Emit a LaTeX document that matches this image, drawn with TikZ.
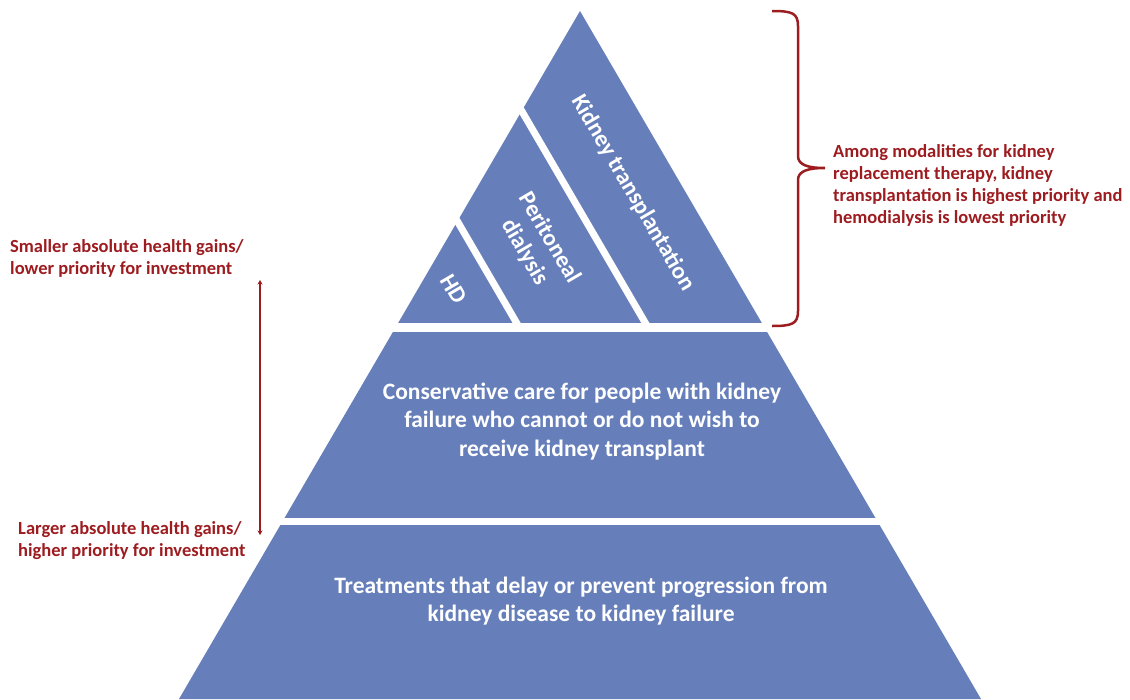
\documentclass[tikz,border=0pt]{standalone}
\usepackage{fontspec}
\setmainfont{Carlito}
\usetikzlibrary{arrows.meta}
\definecolor{pyrblue}{RGB}{102,127,187}
\definecolor{notered}{RGB}{156,28,32}

\begin{document}
\begin{tikzpicture}[x=1pt,y=-1pt,
	tier/.style={text=white,font=\bfseries\fontsize{23.5}{28.5}\selectfont,align=center},
	slant/.style={tier,rotate=-59.7},
	note/.style={text=notered,font=\bfseries\fontsize{18.5}{22}\selectfont,align=left,inner sep=0pt,anchor=north west}]
	\useasboundingbox (0,0) rectangle (1130,699);
	\fill[pyrblue] (580,11) -- (179,699) -- (981,699) -- cycle;
	\draw[white,line width=8.5pt] (150,327.5) -- (1000,327.5);
	\draw[white,line width=7.5pt] (150,521.5) -- (1000,521.5);
	\draw[white,line width=7pt] (519.3,327.5) -- (445,200);
	\draw[white,line width=7pt] (648,327.5) -- (509.5,90);
	\node[slant] (kt) at (633,193) {Kidney transplantation};
	\node[slant] (pd) at (537,245) {Peritoneal\\dialysis};
	\node[slant] (hd) at (454,289) {HD};
	\node[tier] (cc) at (582,421.5) {Conservative care for people with kidney\\failure who cannot or do not wish to\\receive kidney transplant};
	\node[tier] (tr) at (581,601) {Treatments that delay or prevent progression from\\kidney disease to kidney failure};
	\draw[notered,line width=2.5pt] (772,11) .. controls (792,11) and (798,13) .. (798,26) -- (798,156)
		.. controls (798,165) and (808,168) .. (825,168) .. controls (808,168) and (798,171) .. (798,180)
		-- (798,311) .. controls (798,324) and (792,326) .. (772,326);
	\node[note] (among) at (833,144.5) {Among modalities for kidney\\replacement therapy, kidney\\transplantation is highest priority and\\hemodialysis is lowest priority};
	\node[note] (small) at (10,239.5) {Smaller absolute health gains/\\lower priority for investment};
	\node[note] (large) at (18,521.5) {Larger absolute health gains/\\higher priority for investment};
	\coordinate (up) at (260,280);
	\coordinate (dn) at (260,535);
	\draw[notered,line width=1.8pt,{Stealth[length=4.5pt,width=5pt]}-{Stealth[length=4.5pt,width=5pt]}] (up) -- (dn);
\end{tikzpicture}
\end{document}
